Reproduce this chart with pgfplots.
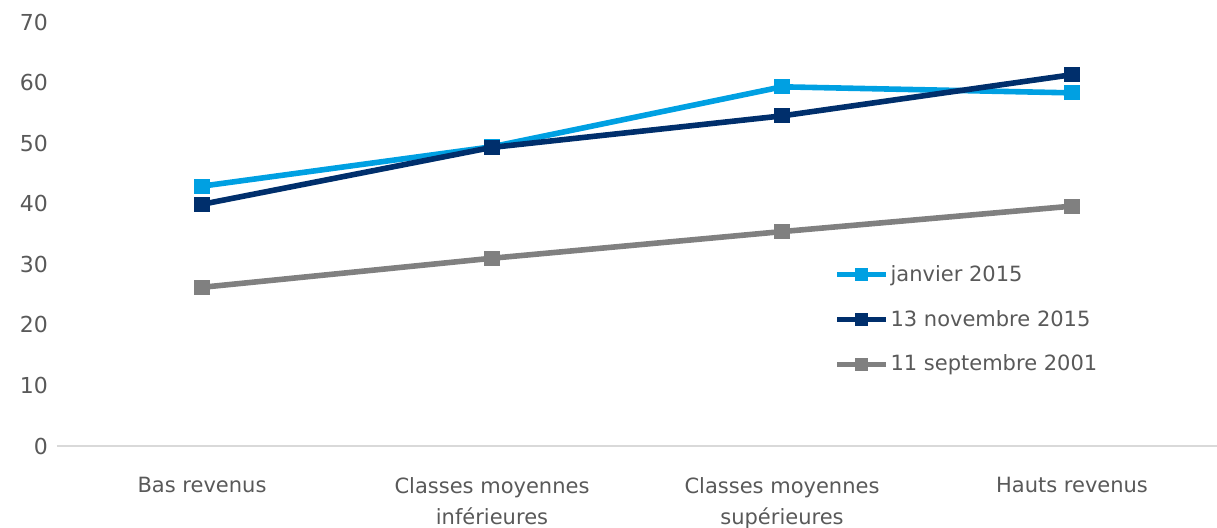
\documentclass[border=0pt]{standalone}
\usepackage{pgfplots}
\pgfplotsset{compat=1.18}
\usepackage{fontspec}
\setmainfont{DejaVu Sans}
\definecolor{lblue}{HTML}{00A0E2}
\definecolor{navy}{HTML}{002F6C}
\definecolor{ggray}{HTML}{808080}
\definecolor{txt}{HTML}{595959}
\definecolor{axl}{HTML}{D9D9D9}

\begin{document}
\begin{tikzpicture}
    \begin{axis}[
        name=ax,
        scale only axis,
        width=580pt,
        height=212pt,
        xmin=-0.5, xmax=3.5,
        ymin=0, ymax=70,
        ytick={0,10,...,70},
        xtick={0,1,2,3},
        xticklabels={Bas revenus, Classes moyennes\\inférieures, Classes moyennes\\supérieures, Hauts revenus},
        x tick label style={align=center, font=\fontsize{10.5}{15.5}\selectfont, text=txt, yshift=-12pt},
        y tick label style={font=\fontsize{11}{12}\selectfont, text=txt, xshift=-1pt},
        /pgf/number format/assume math mode=true,
        major tick length=0pt,
        axis y line*=left,
        axis x line*=bottom,
        y axis line style={draw=none},
        x axis line style={axl, line width=1.2pt, -},
        tick style={draw=none},
        clip=false,
        legend cell align=left,
        legend style={
            at={(0.67,0.437)}, anchor=north west,
            draw=none, fill=none,
            font=\fontsize{10.5}{12}\selectfont, text=txt,
            row sep=9pt,
            inner sep=0pt,
            nodes={inner xsep=1pt},
        },
        legend image code/.code={
            \draw[#1, mark=none] (0cm,0cm) -- (0.85cm,0cm);
            \draw[#1, draw=none, mark size=2pt] plot coordinates {(0.425cm,0cm)};
        },
        every axis plot/.append style={line width=2.8pt, mark=square*, mark size=2.4pt, mark options={solid}},
    ]
        \addplot[lblue] coordinates {(0,42.9) (1,49.4) (2,59.3) (3,58.3)};
        \addplot[navy] coordinates {(0,39.9) (1,49.3) (2,54.5) (3,61.3)};
        \addplot[ggray] coordinates {(0,26.2) (1,31.0) (2,35.4) (3,39.6)};
        \legend{janvier 2015, 13 novembre 2015, 11 septembre 2001}
    \end{axis}
    \pgfresetboundingbox
    \path ([xshift=-28.5pt,yshift=-40.5pt]ax.south west) rectangle ([yshift=11pt]ax.north east);
\end{tikzpicture}
\end{document}
